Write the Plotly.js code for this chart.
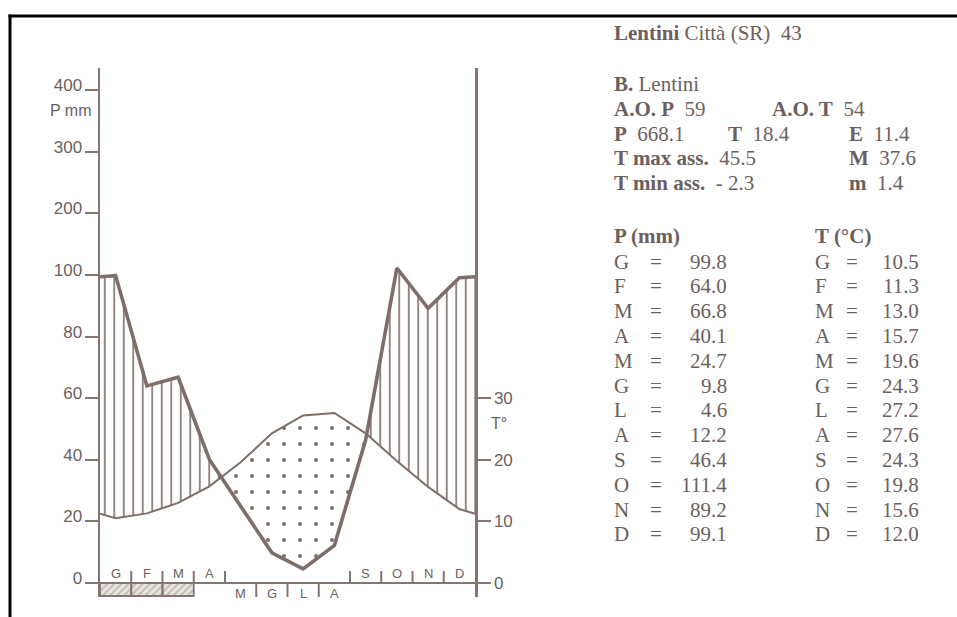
<!DOCTYPE html>
<html>
<head>
<meta charset="utf-8">
<script src="https://cdn.plot.ly/plotly-3.0.1.min.js"></script>
<style>html,body{margin:0;padding:0;background:#fff;}#chart{width:957px;height:617px;}</style>
</head>
<body>
<div id="chart"></div>
<script>
// ---- data ----
const monthLabels = ['G','F','M','A','M','G','L','A','S','O','N','D'];
const precip = [99.8, 64.0, 66.8, 40.1, 24.7, 9.8, 4.6, 12.2, 46.4, 111.4, 89.2, 99.1];
const temp = [10.5, 11.3, 13.0, 15.7, 19.6, 24.3, 27.2, 27.6, 24.3, 19.8, 15.6, 12.0];
const labelBelow = [0,0,0,0,1,1,1,1,0,0,0,0];
const frostMonths = [1,1,1,0,0,0,0,0,0,0,0,0];
const pTickVals = [0, 20, 40, 60, 80, 100, 200, 300, 400];
const tTickVals = [0, 10, 20, 30];
const titleLine = ['Lentini', 'Città (SR)', '43'];
const stationLine = ['B.', 'Lentini'];
const aoLabels = ['A.O. P', 'A.O. T'];
const aoValues = ['59', '54'];
const pteLabels = ['P', 'T', 'E'];
const pteValues = ['668.1', '18.4', '11.4'];
const extLabels = ['T max ass.', 'T min ass.'];
const extValues = ['45.5', '- 2.3'];
const mLabels = ['M', 'm'];
const mValues = ['37.6', '1.4'];

// ---- geometry ----
const W = 957, H = 617;
const ml = 100, mr = 482, mt = 68, mb = 20;
const pw = W - ml - mr, ph = H - mt - mb;
const pxPerMm = 3.08;
const zeroPx = 583;
const yMin = -(H - mb - zeroPx) / pxPerMm;
const yMax = yMin + ph / pxPerMm;
const px2x = p => (p - ml) / pw;
const px2y = p => (H - mb - p) / ph;

const scaleP = p => p <= 100 ? p : 100 + (p - 100) / 5;

const lineCol = '#7f6d6a';
const axisCol = '#857572';
const textCol = '#6c5f5e';
const NB = '\u00a0';

// wrap-around positions (month centres, closing at the axes)
const xm = [0].concat(monthLabels.map((_, i) => i + 0.5), [12]);
const edgeP = (precip[11] + precip[0]) / 2;
const edgeT = (temp[11] + temp[0]) / 2;
const pS = [edgeP].concat(precip, [edgeP]).map(scaleP);
const tRaw = [edgeT].concat(temp, [edgeT]);
const tS = tRaw.map(t => 2 * t);

// insert crossing points
const X = [], PP = [], TT = [];
for (let i = 0; i < xm.length; i++) {
  X.push(xm[i]); PP.push(pS[i]); TT.push(tS[i]);
  if (i < xm.length - 1) {
    const d0 = pS[i] - tS[i], d1 = pS[i + 1] - tS[i + 1];
    if (d0 * d1 < 0) {
      const f = d0 / (d0 - d1);
      const xc = xm[i] + f * (xm[i + 1] - xm[i]);
      const yc = pS[i] + f * (pS[i + 1] - pS[i]);
      X.push(xc); PP.push(yc); TT.push(yc);
    }
  }
}
const UP = PP.map((p, i) => Math.max(p, TT[i]));

// frost strip polygons (below the zero line, down to the axis bottom)
const fx = [], fy = [];
frostMonths.forEach((f, i) => {
  if (!f) return;
  fx.push(i, i + 1, i + 1, i, i, null);
  fy.push(0, 0, yMin, yMin, 0, null);
});

const noLine = {width: 0, color: 'rgba(0,0,0,0)'};
const traces = [
  {x: X, y: TT, mode: 'lines', line: noLine, hoverinfo: 'skip'},
  {x: X, y: UP, mode: 'lines', line: noLine, fill: 'tonexty', fillcolor: 'rgba(0,0,0,0)',
   fillpattern: {shape: '|', size: 9.5, solidity: 0.17, fgcolor: lineCol, bgcolor: 'rgba(255,255,255,0)', fillmode: 'replace'}, hoverinfo: 'skip'},
  {x: X, y: PP, mode: 'lines', line: noLine, hoverinfo: 'skip'},
  {x: X, y: UP, mode: 'lines', line: noLine, fill: 'tonexty', fillcolor: 'rgba(0,0,0,0)',
   fillpattern: {shape: '.', size: 16, solidity: 0.05, fgcolor: lineCol, bgcolor: 'rgba(255,255,255,0)', fillmode: 'replace'}, hoverinfo: 'skip'},
  {x: fx, y: fy, mode: 'lines', line: noLine, fill: 'toself', fillcolor: '#e4e0dc',
   fillpattern: {shape: '/', size: 5, solidity: 0.3, fgcolor: '#bdb5b0', bgcolor: '#e6e2de', fillmode: 'replace'}, hoverinfo: 'skip'},
  {x: xm, y: tRaw, yaxis: 'y2', mode: 'lines', line: {color: lineCol, width: 2}, hoverinfo: 'skip'},
  {x: xm, y: pS, mode: 'lines', line: {color: lineCol, width: 3.6}, hoverinfo: 'skip'}
];

const shapes = [];
const annotations = [];

// month separators
for (let b = 1; b < 12; b++) {
  const down = labelBelow[b - 1] && labelBelow[b];
  shapes.push({type: 'line', xref: 'x', yref: 'y', ysizemode: 'pixel', yanchor: 0,
    x0: b, x1: b, y0: 0, y1: down ? -14 : 12, line: {color: axisCol, width: 2}});
}
// frost box outlines
frostMonths.forEach((f, i) => {
  if (!f) return;
  shapes.push({type: 'rect', xref: 'x', yref: 'y', ysizemode: 'pixel', yanchor: 0,
    x0: i, x1: i + 1, y0: 0, y1: -13, fillcolor: 'rgba(0,0,0,0)', line: {color: axisCol, width: 1.8}, layer: 'above'});
});
// month labels
monthLabels.forEach((m, i) => {
  const below = labelBelow[i];
  annotations.push({x: i + 0.5, y: 0, xref: 'x', yref: 'y', text: m, showarrow: false,
    yanchor: below ? 'top' : 'bottom', yshift: below ? -1 : 0,
    font: {family: 'Liberation Sans, Arial, sans-serif', size: 13, color: textCol}});
});
// axis unit labels
annotations.push({xref: 'paper', yref: 'paper', x: px2x(92), y: px2y(110), xanchor: 'right', yanchor: 'middle',
  text: 'P mm', showarrow: false, borderpad: 0, font: {family: 'Liberation Sans, Arial, sans-serif', size: 16, color: textCol}});
annotations.push({xref: 'paper', yref: 'paper', x: px2x(489), y: px2y(423), xanchor: 'left', yanchor: 'middle',
  text: 'T°', showarrow: false, font: {family: 'Liberation Sans, Arial, sans-serif', size: 16, color: textCol}});

// right-hand text
const serif = 'Liberation Serif, Times New Roman, serif';
const fs = 21;
function txt(xp, yp, text, anchor) {
  annotations.push({xref: 'paper', yref: 'paper', x: px2x(xp), y: px2y(yp), xanchor: anchor || 'left',
    yanchor: 'middle', text: text, showarrow: false, font: {family: serif, size: fs, color: textCol}});
}
txt(612, 33, '<b>' + titleLine[0] + '</b> ' + titleLine[1] + NB + NB + titleLine[2]);
txt(612, 84, '<b>' + stationLine[0] + '</b> ' + stationLine[1]);
txt(612, 109, '<b>' + aoLabels[0] + '</b>' + NB + NB + aoValues[0]);
txt(770, 109, '<b>' + aoLabels[1] + '</b>' + NB + NB + aoValues[1]);
txt(612, 134, '<b>' + pteLabels[0] + '</b>' + NB + NB + pteValues[0]);
txt(726, 134, '<b>' + pteLabels[1] + '</b>' + NB + NB + pteValues[1]);
txt(847, 134, '<b>' + pteLabels[2] + '</b>' + NB + NB + pteValues[2]);
txt(612, 158, '<b>' + extLabels[0] + '</b>' + NB + NB + extValues[0]);
txt(847, 158, '<b>' + mLabels[0] + '</b>' + NB + NB + mValues[0]);
txt(612, 183, '<b>' + extLabels[1] + '</b>' + NB + NB + extValues[1]);
txt(847, 183, '<b>' + mLabels[1] + '</b>' + NB + NB + mValues[1]);

txt(612, 236, '<b>P (mm)</b>');
txt(813, 236, '<b>T (°C)</b>');
const rowY0 = 261.5, rowStep = 24.8;
monthLabels.forEach((m, i) => {
  const y = rowY0 + i * rowStep;
  txt(612, y, m);
  txt(656, y, '=', 'center');
  txt(729, y, precip[i].toFixed(1), 'right');
  txt(813, y, m);
  txt(852, y, '=', 'center');
  txt(921, y, temp[i].toFixed(1), 'right');
});

// frame lines
shapes.push({type: 'line', xref: 'paper', yref: 'paper', x0: px2x(10), x1: px2x(10), y0: px2y(625), y1: px2y(14.5), line: {color: '#000', width: 3}});
shapes.push({type: 'line', xref: 'paper', yref: 'paper', x0: px2x(8.5), x1: px2x(965), y0: px2y(16), y1: px2y(16), line: {color: '#000', width: 3}});

const axFont = {family: 'Liberation Sans, Arial, sans-serif', size: 17, color: textCol};
const layout = {
  width: W, height: H,
  margin: {l: ml, r: mr, t: mt, b: mb, pad: 0},
  paper_bgcolor: '#fff', plot_bgcolor: '#fff',
  showlegend: false, hovermode: false,
  xaxis: {range: [0, 12], showgrid: false, zeroline: false, showline: false, showticklabels: false, ticks: '', fixedrange: true},
  yaxis: {range: [yMin, yMax], showgrid: false, zeroline: true, zerolinecolor: axisCol, zerolinewidth: 2,
    showline: true, linecolor: axisCol, linewidth: 2.5, ticks: 'outside', ticklen: 13, tickwidth: 2, tickcolor: axisCol,
    tickvals: pTickVals.map(scaleP), ticktext: pTickVals.map(String), tickfont: axFont, ticklabelshift: -5, ticklabelstandoff: -1, fixedrange: true},
  yaxis2: {range: [yMin / 2, yMax / 2], overlaying: 'y', side: 'right', anchor: 'x', showgrid: false, zeroline: false,
    showline: true, linecolor: axisCol, linewidth: 2.5, ticks: 'outside', ticklen: 13, tickwidth: 2, tickcolor: axisCol,
    tickvals: tTickVals, ticktext: tTickVals.map(String), tickfont: axFont, fixedrange: true},
  shapes: shapes,
  annotations: annotations
};
Plotly.newPlot('chart', traces, layout, {staticPlot: true, displayModeBar: false});
</script>
</body>
</html>
